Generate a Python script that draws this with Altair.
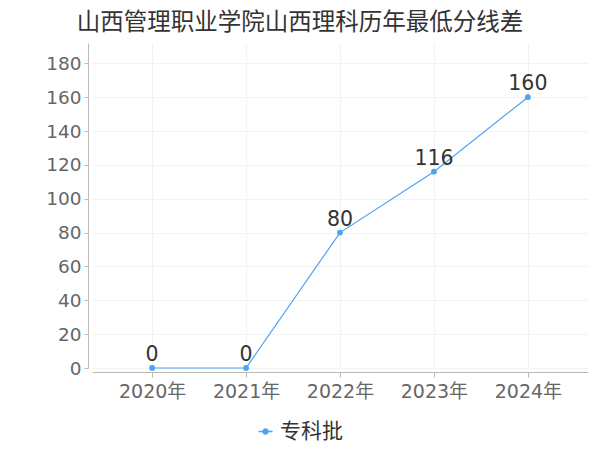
import altair as alt
import pandas as pd

years = ["2020年", "2021年", "2022年", "2023年", "2024年"]
values = [0, 0, 80, 116, 160]
series = ["专科批"] * 5
title = "山西管理职业学院山西理科历年最低分线差"

df = pd.DataFrame({"year": years, "value": values, "series": series})
FONT = "DejaVu Sans, Noto Sans CJK SC"
COLOR = "#4da3f5"

x = alt.X("year:N", sort=years, title=None,
          scale=alt.Scale(type="point", padding=0.64),
          axis=alt.Axis(labelAngle=0, labelFontSize=19, labelColor="#666", labelFont=FONT,
                        domainColor="#bbb", tickColor="#bbb", tickSize=5, offset=4,
                        grid=True, gridColor="#f2f2f2", labelPadding=5))
y = alt.Y("value:Q", title=None,
          scale=alt.Scale(domain=[0, 192], nice=False),
          axis=alt.Axis(values=list(range(0, 181, 20)), labelFontSize=18.5, labelColor="#666",
                        labelFont=FONT, domainColor="#bbb", tickColor="#bbb", tickSize=4,
                        offset=4, grid=True, gridColor="#f2f2f2", labelPadding=3))

base = alt.Chart(df).encode(x=x, y=y)

line = base.mark_line(strokeWidth=1.2).encode(
    color=alt.Color("series:N", scale=alt.Scale(range=[COLOR]),
                    legend=alt.Legend(title=None, orient="none", legendX=163, legendY=378,
                                      labelFontSize=21, labelColor="#333", labelFont=FONT,
                                      symbolType="M-1,0H1M-0.35,0A0.35,0.35 0 1,0 0.35,0A0.35,0.35 0 1,0 -0.35,0",
                                      symbolSize=200, symbolStrokeWidth=1.5,
                                      symbolFillColor=COLOR, symbolStrokeColor=COLOR))
)
points = base.mark_circle(size=34, opacity=1, color=COLOR)
labels = base.mark_text(dy=-13, fontSize=20.5, color="#333", font=FONT).encode(text="value:Q")

chart = alt.layer(line, points, labels).properties(
    width=496, height=325,
    title=alt.TitleParams(title, fontSize=23.5, font=FONT, fontWeight="normal", color="#333",
                          anchor="middle", dx=-40, offset=9),
    autosize=alt.AutoSizeParams(type="none"),
    padding={"left": 84, "top": 35, "right": 4, "bottom": 74},
).configure_view(stroke=None)

chart.save("out.html", embed_options={"renderer": "svg", "actions": False})
